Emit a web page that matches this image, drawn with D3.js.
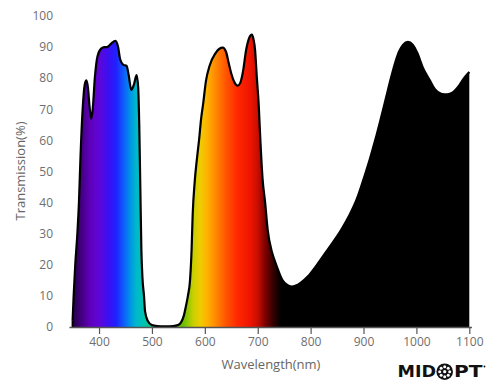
<!DOCTYPE html>
<html><head><meta charset="utf-8">
<script src="https://cdn.jsdelivr.net/npm/d3@7"></script>
<style>body{margin:0;background:#fff}svg{display:block}</style>
</head><body>
<svg id="c" width="500" height="388"></svg>
<script>
const wavelengths = [350,352,355,359,362,365,369,373,376,379,382,385,388,392,397,404,410,415,418,424,431,436,440,446,452,456,461,466,471,474,476,478,480,482,485,487,492,500,510,525,540,549,555,560,564,568,572,575,577,581,585,589,593,597,602,609,620,627,634,640,645,650,655,662,667,672,678,684,689,692,695,698,702,705,709,714,719,727,735,747,755,764,772,781,795,812,834,857,872,887,900,912,922,932,943,951,959,967,975,984,993,1002,1012,1025,1035,1047,1058,1068,1078,1090,1100];
const transmission = [2,10,20,30,40,55,70,78,79.3,77,71,67,70,80,87,89.5,90,90,90.3,91.3,92,90,86,84.3,84,81,76.2,78,81,77,65,45,25,16,10,5,2,0.6,0.3,0.2,0.3,0.6,1.5,3.5,6.5,10,15,25,36,47,54,60,67,72,79,84,88,89.4,89.8,88.5,85,81.5,79,77.6,78.5,82,89,93,94,92.5,89,81,71,60,48,40,31,24,20,15,13.6,13,13.3,14.2,16.3,20,25.3,31,35.5,41,47.5,54,60,66.5,74,79.5,84.5,88.5,90.8,91.7,90.8,88,83.5,79.4,76.5,75,74.8,75.3,77,80,82];
const xTicks = [400,500,600,700,800,900,1000,1100];
const yTicks = [0,10,20,30,40,50,60,70,80,90,100];
const specStops = [[345,"#1c0036"],[365,"#3f007a"],[382,"#5e00b8"],[400,"#5f06d8"],[418,"#3a10f2"],[432,"#2020ff"],[445,"#1056ff"],[458,"#0090e8"],[470,"#00b8cc"],[485,"#00c4b0"],[500,"#10c080"],[530,"#30c020"],[560,"#6cc000"],[578,"#c8d000"],[592,"#f0cc00"],[605,"#ffb000"],[620,"#ff8a00"],[640,"#ff5400"],[662,"#ff2800"],[685,"#f01400"],[700,"#c80e00"],[715,"#780000"],[730,"#300000"],[744,"#000000"],[1105,"#000000"]];

const data = wavelengths.map((w,i)=>({w, t: transmission[i]}));
const svg = d3.select("#c");
const x = d3.scaleLinear().domain([350,1100]).range([72.6,469.3]);
const y = d3.scaleLinear().domain([0,100]).range([327,16]);

const defs = svg.append("defs");
const grad = defs.append("linearGradient").attr("id","spec")
  .attr("gradientUnits","userSpaceOnUse")
  .attr("x1", x(345)).attr("x2", x(1105)).attr("y1",0).attr("y2",0);
const span = 1105-345;
specStops.forEach(([w,c])=>grad.append("stop").attr("offset",(w-345)/span).attr("stop-color",c));

const area = d3.area().x(d=>x(d.w)).y0(y(0)).y1(d=>y(d.t)).curve(d3.curveMonotoneX);
const line = d3.line().x(d=>x(d.w)).y(d=>y(d.t)).curve(d3.curveMonotoneX);

svg.append("path").datum(data).attr("d",area).attr("fill","url(#spec)");
svg.append("path").datum(data).attr("d",line).attr("fill","none")
  .attr("stroke","#000").attr("stroke-width",2.2).attr("stroke-linejoin","round");
svg.append("line").attr("x1",x(350)).attr("x2",x(350)).attr("y1",y(0)).attr("y2",y(transmission[0]))
  .attr("stroke","#000").attr("stroke-width",2);

const font = "'Open Sans', sans-serif";
const xAxis = d3.axisBottom(x).tickValues(xTicks).tickFormat(d3.format("d")).tickSize(7).tickSizeOuter(0).tickPadding(3);
const gx = svg.append("g").attr("transform",`translate(0,${y(0)})`).call(xAxis);
gx.select(".domain").attr("d",`M${x(345)-0.5},0.5H${x(1105)}`).attr("stroke","#555").attr("stroke-width",1.5);
gx.selectAll(".tick line").attr("stroke","#555").attr("stroke-width",1.2);
gx.selectAll(".tick text").attr("fill","#6e6e6e").attr("font-size",12).attr("font-family",font);

svg.append("g").selectAll("text").data(yTicks).join("text")
  .attr("x",53).attr("y",d=>y(d)).attr("dy","0.35em").attr("text-anchor","end")
  .attr("fill","#6e6e6e").attr("font-size",12).attr("font-family",font)
  .text(d=>d);

svg.append("text").attr("transform","translate(25,171) rotate(-90)").attr("text-anchor","middle")
  .attr("fill","#666").attr("font-size",13).attr("font-family",font)
  .text("Transmission(%)");
svg.append("text").attr("x",271).attr("y",369).attr("text-anchor","middle")
  .attr("fill","#666").attr("font-size",13).attr("font-family",font)
  .text("Wavelength(nm)");

// Logo
const logo = svg.append("g").attr("font-family","'DejaVu Sans', sans-serif").attr("font-weight","bold").attr("font-size",15.5).attr("fill","#111");
function stretched(str, x0, w){
  const t = logo.append("text").attr("x",0).attr("y",0).text(str);
  const nat = t.node().getComputedTextLength();
  t.attr("transform",`translate(${x0},377.3) scale(${w/nat},1)`);
}
stretched("MID",397.5,38.5);
stretched("PT",454,28.5);
const cx = 444.7, cy = 371.7;
logo.append("circle").attr("cx",cx).attr("cy",cy).attr("r",8.3).attr("fill","#111");
d3.range(8).forEach(i=>{const a=i/8*2*Math.PI;
  logo.append("circle").attr("cx",cx+5*Math.cos(a)).attr("cy",cy+5*Math.sin(a)).attr("r",1.5).attr("fill","#fff");});
logo.append("circle").attr("cx",cx).attr("cy",cy).attr("r",1.6).attr("fill","#fff");
logo.append("circle").attr("cx",484.5).attr("cy",366.5).attr("r",0.9).attr("fill","#111");
</script>
</body></html>
